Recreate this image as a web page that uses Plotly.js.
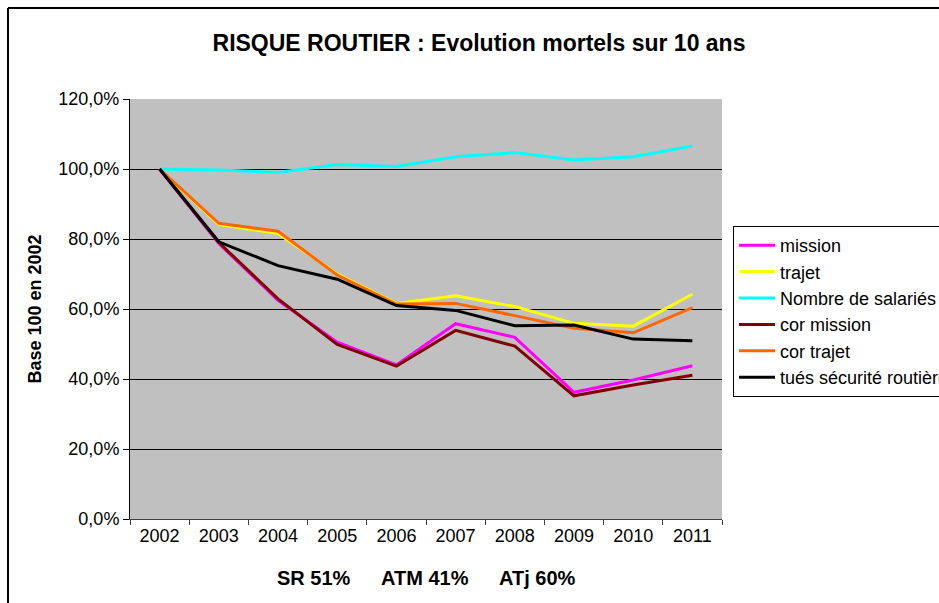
<!DOCTYPE html>
<html>
<head>
<meta charset="utf-8">
<script src="https://cdn.plot.ly/plotly-3.0.1.min.js"></script>
<style>
html,body{margin:0;padding:0;background:#fff;overflow:hidden;}
#chart{width:980px;height:603px;}
</style>
</head>
<body>
<div id="chart"></div>
<script>
const years = ["2002","2003","2004","2005","2006","2007","2008","2009","2010","2011"];
const mission = [100, 78.7, 62.5, 50.5, 44.0, 55.8, 51.9, 36.2, 39.7, 43.8];
const trajet = [100, 84.1, 81.6, 70.0, 61.6, 63.8, 60.7, 55.9, 55.1, 64.2];
const salaries = [100, 99.7, 99.0, 101.3, 100.7, 103.5, 104.7, 102.6, 103.5, 106.6];
const corMission = [100, 79.0, 62.9, 49.9, 43.7, 53.9, 49.4, 35.2, 38.3, 41.1];
const corTrajet = [100, 84.5, 82.2, 69.7, 61.4, 61.6, 58.1, 54.5, 53.2, 60.4];
const tues = [100, 79.2, 72.4, 68.5, 61.0, 59.6, 55.2, 55.4, 51.4, 50.9];
const seriesNames = ["mission","trajet","Nombre de salariés","cor mission","cor trajet","tués sécurité routière"];
const seriesData = [mission, trajet, salaries, corMission, corTrajet, tues];
const seriesColors = ["#FF00FF","#FFFF00","#00FFFF","#800000","#FF6600","#000000"];
const yTicks = [0,20,40,60,80,100,120];
const yTickLabels = ["0,0%","20,0%","40,0%","60,0%","80,0%","100,0%","120,0%"];
const footnotes = ["SR 51%","ATM 41%","ATj 60%"];

const FONT = "Liberation Sans, Arial, sans-serif";
const W = 980;

const traces = seriesData.map((d,i)=>({
  type:"scatter", mode:"lines", x:years, y:d, name:seriesNames[i],
  legendgroup:"g"+i,
  line:{color:seriesColors[i], width:3},
  hoverinfo:"skip"
}));

const footX = [314, 425, 537].map(px => (px-130)/592);
const annotations = footnotes.map((t,i)=>({
  text:"<b>"+t+"</b>", xref:"paper", yref:"paper", x:footX[i], y:(519-578)/420,
  xanchor:"center", yanchor:"middle", showarrow:false,
  font:{family:FONT, size:20, color:"#000"}
}));

const bx = (8-130)/592, by = (519-8)/420;
const layout = {
  width:W, height:603,
  margin:{l:130, r:W-722, t:99, b:84},
  paper_bgcolor:"#ffffff",
  plot_bgcolor:"#C0C0C0",
  separators:", ",
  font:{family:FONT, size:18, color:"#000"},
  title:{text:"<b>RISQUE ROUTIER : Evolution mortels sur 10 ans</b>", x:479/W, xanchor:"center", y:1-43/603, yanchor:"middle", xref:"container", yref:"container",
    font:{family:FONT, size:23, color:"#000"}},
  xaxis:{type:"category", range:[-0.5,9.5], tickson:"boundaries", ticks:"outside", ticklen:5, tickcolor:"#404040",
    showgrid:false, showline:true, linecolor:"#404040", linewidth:1, zeroline:false,
    tickfont:{family:FONT, size:18}, fixedrange:true},
  yaxis:{range:[0,120], tickvals:yTicks, ticktext:yTickLabels, ticks:"outside", ticklen:6, tickcolor:"#000",
    showgrid:true, gridcolor:"#000", gridwidth:1, showline:true, linecolor:"#000", linewidth:1, zeroline:false,
    tickfont:{family:FONT, size:18},
    title:{text:"<b>Base 100 en 2002</b>", font:{family:FONT, size:18}, standoff:12}, fixedrange:true},
  legend:{x:(733-130)/592, xanchor:"left", y:(519-226)/420, yanchor:"top",
    bordercolor:"#000", borderwidth:1, bgcolor:"#fff", tracegroupgap:0, itemwidth:36,
    font:{family:FONT, size:18, color:"#000"}},
  showlegend:true,
  annotations:annotations,
  shapes:[
    {type:"line", xref:"paper", yref:"paper", x0:bx, x1:bx, y0:-0.5, y1:by, line:{color:"#000", width:2}},
    {type:"line", xref:"paper", yref:"paper", x0:bx, x1:1.8, y0:by, y1:by, line:{color:"#000", width:2}}
  ],
  hovermode:false
};
Plotly.newPlot("chart", traces, layout, {staticPlot:true, displayModeBar:false});
</script>
</body>
</html>
